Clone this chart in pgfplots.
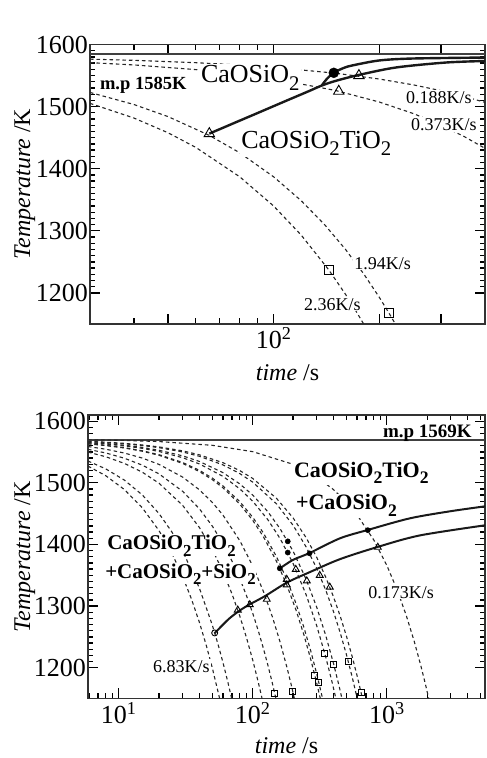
\documentclass[border=0pt]{standalone}
\usepackage{fontspec}
\setmainfont{Liberation Serif}
\usepackage{pgfplots}
\pgfplotsset{compat=1.18}

% chemical subscript, larger and lower than \textsubscript
\newcommand{\sbt}[1]{\raisebox{-0.3em}{\scalebox{0.8}{#1}}}

\pgfplotsset{
  myax/.style={
    scale only axis, ymin=1150,
    axis line style={black!80, line width=1.3pt},
    every tick/.style={black, line width=1.3pt},
    major tick length=10pt, minor tick length=5.5pt,
    tick align=inside, xtick pos=both, ytick pos=both,
    ytick={1200,1300,1400,1500,1600}, minor y tick num=9,
    yticklabel style={font=\fontsize{26}{26}\selectfont, inner sep=2pt},
    xticklabel style={font=\fontsize{26}{26}\selectfont},
    /pgf/number format/assume math mode=true,
    /pgf/number format/1000 sep={},
    label style={font=\fontsize{24}{24}\selectfont},
    xlabel={\textit{time} /s}, ylabel={\textit{Temperature} /K},
  },
  dsh/.style={black!85, line width=1.1pt, dash pattern=on 3.5pt off 3pt},
  sol/.style={black!90, line width=2.4pt, smooth},
  mpl/.style={black!75, line width=1.6pt},
  tri/.style={only marks, mark=triangle, mark size=#1, mark options={fill=white, line width=0.9pt, black}},
  sq/.style={only marks, mark=square, mark size=#1, mark options={fill=white, line width=0.9pt, black}},
  dot/.style={only marks, mark=*, mark size=#1, mark options={black}},
}

\begin{document}
\begin{tikzpicture}
\useasboundingbox (-88pt,-59.5pt) rectangle (399pt,698.5pt);

% ---------------- (a)
\begin{semilogxaxis}[myax, at={(2pt,374.5pt)}, anchor=south west,
  width=395pt, height=279.5pt,
  xmin=30, xmax=400, ymax=1600,
  xtick={50,100,200,300}, xticklabels={,10\textsuperscript{2},,},
  minor xtick={40,60,70,80,90},
  xlabel style={at={(axis description cs:0.5,-0.175)}, anchor=center},
  ylabel style={at={(axis description cs:-0.165,0.5)}, anchor=center},
]
\addplot[mpl] coordinates {(30,1585) (400,1585)};

% cooling curves
\addplot[dsh] coordinates {(30,1576.4) (40,1574.5) (60,1570.7) (80,1567.0) (100,1563.2) (150,1553.8) (200,1544.4) (250,1535.0) (300,1525.6) (350,1516.2) (400,1506.8)};
\addplot[dsh] coordinates {(30,1570.8) (40,1567.1) (60,1559.6) (80,1552.2) (100,1544.7) (150,1526.0) (200,1507.4) (250,1488.8) (300,1470.1) (350,1451.4) (400,1432.8)};
\addplot[dsh] coordinates {(30,1522.8) (40,1503.4) (50,1484.0) (65.6,1453.7) (80,1425.8) (100,1387.0) (120,1348.2) (140,1309.4) (160,1270.6) (180,1231.8) (200,1193.0) (213,1167.8) (222.2,1150) (230,1134.8)};
\addplot[dsh] coordinates {(30,1505.2) (40,1481.6) (50,1458.0) (60,1434.4) (80,1387.2) (100,1340.0) (120,1292.8) (143.6,1237.1) (160,1198.4) (170,1174.8) (180.5,1150) (190,1127.6)};

% phase boundaries
\addplot[sol] coordinates {(65.6,1456.5) (79.4,1476.5) (90.6,1490.3) (110.4,1511.1) (125.9,1524.8) (137.1,1533.9) (150.4,1541.5) (175,1551) (223.2,1563) (310,1571) (400,1573.4)};
\addplot[sol] coordinates {(137.1,1533.9) (142,1545) (148.4,1554.6) (158,1562) (167.1,1566.1) (199.5,1574.2) (248,1577.4) (400,1579)};

\addplot[tri=6pt] coordinates {(65.6,1456.5) (153.3,1524.7) (175,1550)};
\addplot[dot=5pt] coordinates {(148.4,1554.4)};
\addplot[sq=4.5pt] coordinates {(143.6,1237.1) (213,1167.8)};

\node[anchor=west, font=\bfseries\fontsize{22}{22}\selectfont] at (rel axis cs:0.005,1.09) {(a)};
\node[anchor=base west, inner sep=0pt, font=\bfseries\fontsize{18.5}{20}\selectfont] at (rel axis cs:0.025,0.84) {m.p 1585K};
\node[anchor=base west, inner sep=1pt, fill=white, font=\fontsize{26}{28}\selectfont] at (rel axis cs:0.278,0.864) {CaOSiO\sbt{2}};
\node[anchor=base west, inner sep=1pt, fill=white, font=\fontsize{26}{28}\selectfont] at (rel axis cs:0.380,0.629) {CaOSiO\sbt{2}TiO\sbt{2}};
\node[anchor=base west, inner sep=1pt, fill=white, font=\fontsize{18}{20}\selectfont] at (rel axis cs:0.797,0.789) {0.188K/s};
\node[anchor=base west, inner sep=1pt, fill=white, font=\fontsize{18}{20}\selectfont] at (rel axis cs:0.810,0.693) {0.373K/s};
\node[anchor=base west, inner sep=1pt, fill=white, font=\fontsize{18}{20}\selectfont] at (rel axis cs:0.666,0.196) {1.94K/s};
\node[anchor=base west, inner sep=1pt, fill=white, font=\fontsize{18}{20}\selectfont] at (rel axis cs:0.539,0.050) {2.36K/s};
\end{semilogxaxis}

% ---------------- (b)
\begin{semilogxaxis}[myax, at={(0pt,0pt)}, anchor=south west,
  width=397pt, height=283.5pt,
  xmin=5.9, xmax=5400, ymax=1610,
  xtick={10,100,1000}, xticklabels={10\textsuperscript{1},10\textsuperscript{2},10\textsuperscript{3}},
  minor xtick={6,7,8,9,20,30,40,50,60,70,80,90,200,300,400,500,600,700,800,900,2000,3000,4000,5000},
  xlabel style={at={(axis description cs:0.5,-0.165)}, anchor=center},
  ylabel style={at={(axis description cs:-0.159,0.5)}, anchor=center},
]
\addplot[mpl] coordinates {(5.9,1569) (5400,1569)};

% cooling curves, fastest (left) to slowest (right)
\addplot[dsh] coordinates {(5.9,1527.1) (8,1511.5) (11,1489.2) (15,1459.4) (20,1422.2) (25,1385.0) (30,1347.8) (35,1310.6) (40,1273.4) (45,1236.2) (50,1199.0) (56.6,1149.9) (60,1124.6)};
\addplot[dsh] coordinates {(5.9,1535.3) (8,1522.6) (11,1504.5) (15,1480.3) (20,1450.0) (25,1419.8) (30,1389.5) (40,1329.0) (50,1268.5) (55,1238.3) (60,1208.0) (65,1177.8) (69.6,1149.9) (73,1129.4)};
\addplot[dsh] coordinates {(5.9,1549.8) (8,1542.3) (11,1531.5) (15,1517.2) (20,1499.2) (30,1463.3) (40,1427.4) (50,1391.5) (60,1355.6) (70,1319.7) (80,1283.8) (90,1247.9) (100,1212.0) (110,1176.1) (117.3,1149.9) (122,1133)};
\addplot[dsh] coordinates {(5.9,1554.3) (8,1548.4) (11,1539.9) (15,1528.6) (20,1514.4) (30,1486.1) (40,1457.8) (50,1429.5) (60,1401.2) (70,1372.9) (80,1344.6) (90,1316.3) (100,1288.0) (110,1259.7) (120,1231.4) (130,1203.1) (140,1174.8) (148.8,1149.9) (155,1132.4)};
\addplot[dsh] coordinates {(5.9,1558.8) (8,1554.5) (11,1548.3) (15,1540.1) (20,1529.8) (30,1509.2) (40,1488.6) (50,1468.0) (60,1447.4) (80,1406.2) (100,1365.0) (120,1323.8) (140,1282.6) (160,1241.4) (180,1200.2) (195,1169.3) (204.4,1149.9) (212,1134.3)};
\addplot[dsh] coordinates {(5.9,1563.2) (8,1560.4) (11,1556.5) (15,1551.2) (20,1544.6) (30,1531.4) (40,1518.2) (50,1505.0) (60,1491.8) (80,1465.4) (100,1439.0) (120,1412.6) (150,1373.0) (180,1333.4) (210,1293.8) (240,1254.2) (270,1214.6) (300,1175.0) (318.9,1150.1) (330,1135.4)};
\addplot[dsh] coordinates {(5.9,1563.5) (8,1560.8) (11,1557.0) (15,1552.0) (20,1545.6) (30,1532.9) (40,1520.2) (50,1507.5) (60,1494.8) (80,1469.4) (100,1444.0) (120,1418.6) (150,1380.5) (180,1342.4) (210,1304.3) (240,1266.2) (270,1228.1) (300,1190.0) (331.5,1150.0) (345,1132.9)};
\addplot[dsh] coordinates {(5.9,1565.0) (8,1562.9) (11,1559.9) (15,1555.9) (20,1550.8) (30,1540.7) (40,1530.6) (60,1510.4) (80,1490.2) (100,1470.0) (130,1439.7) (160,1409.4) (200,1369.0) (250,1318.5) (300,1268.0) (350,1217.5) (390,1177.1) (416.8,1150.0) (430,1136.7)};
\addplot[dsh] coordinates {(5.9,1565.6) (8,1563.7) (11,1561.0) (15,1557.4) (20,1552.8) (30,1543.7) (40,1534.6) (60,1516.4) (80,1498.2) (100,1480.0) (130,1452.7) (160,1425.4) (200,1389.0) (250,1343.5) (300,1298.0) (350,1252.5) (400,1207.0) (440,1170.6) (462.6,1150.0) (480,1134.2)};
\addplot[dsh] coordinates {(5.9,1566.9) (8,1565.4) (11,1563.3) (15,1560.5) (20,1557.0) (30,1550.0) (40,1543.0) (60,1529.0) (80,1515.0) (100,1501.0) (150,1466.0) (200,1431.0) (250,1396.0) (300,1361.0) (350,1326.0) (400,1291.0) (450,1256.0) (500,1221.0) (550,1186.0) (601.4,1150.0) (620,1137)};
\addplot[dsh] coordinates {(5.9,1567.2) (8,1565.9) (11,1564.0) (15,1561.4) (20,1558.2) (30,1551.8) (40,1545.4) (60,1532.6) (80,1519.8) (100,1507.0) (150,1475.0) (200,1443.0) (250,1411.0) (300,1379.0) (350,1347.0) (400,1315.0) (450,1283.0) (500,1251.0) (550,1219.0) (600,1187.0) (650,1155.0) (657.8,1150.0) (680,1135.8)};
\addplot[dsh] coordinates {(5.9,1569.8) (10,1569.0) (20,1566.9) (50,1560.8) (100,1550.5) (200,1530.0) (300,1509.5) (400,1489.0) (500,1468.5) (600,1448.0) (800,1407.0) (1000,1366.0) (1200,1325.0) (1400,1284.0) (1600,1243.0) (1800,1202.0) (1950,1171.3) (2053.7,1150.0) (2150,1130.3)};

% phase boundaries
\addplot[sol, line width=2pt] coordinates {(52,1256) (67,1280) (87,1298) (123,1316) (179.3,1338) (266,1355) (446,1376) (856.7,1396) (1763,1414.6) (5400,1431)};
\addplot[sol, line width=2pt] coordinates {(159,1361) (200,1375) (265,1386) (446,1409.8) (721.6,1423.5) (1484,1442.3) (2953,1453.7) (5400,1461.8)};

\addplot[sq=3pt] coordinates {(145.9,1158.1) (198.8,1161.5) (290,1188.2) (310.8,1176.3) (344.6,1223.0) (402,1205.2) (515,1210.5) (643,1159.5)};
\addplot[tri=4pt] coordinates {(77.3,1293.5) (95,1302.2) (127.2,1311) (179.3,1334.3) (179.3,1343.3) (209.4,1359.5) (253,1340.8) (316,1349.8) (375.5,1330.7) (856.7,1395.4)};
\addplot[only marks, mark=o, mark size=3pt, mark options={fill=white, line width=0.9pt, black}] coordinates {(52,1256.4)};
\addplot[dot=2.6pt] coordinates {(159,1361.1) (182.4,1405) (182.4,1386.8) (265,1385.5) (721.6,1423.1)};

\node[anchor=west, font=\bfseries\fontsize{22}{22}\selectfont] at (rel axis cs:0.01,1.055) {(b)};
\node[anchor=base east, inner sep=0pt, font=\bfseries\fontsize{19}{20}\selectfont] at (rel axis cs:0.967,0.922) {m.p 1569K};
\node[anchor=base west, inner sep=1pt, fill=white, font=\bfseries\fontsize{22}{24}\selectfont] at (rel axis cs:0.516,0.781) {CaOSiO\sbt{2}TiO\sbt{2}};
\node[anchor=base west, inner sep=1pt, fill=white, font=\bfseries\fontsize{22}{24}\selectfont] at (rel axis cs:0.521,0.665) {+CaOSiO\sbt{2}};
\node[anchor=base west, inner sep=0pt, fill=white, font=\bfseries\fontsize{21}{24}\selectfont] at (rel axis cs:0.048,0.524) {CaOSiO\sbt{2}TiO\sbt{2}};
\node[anchor=base west, inner sep=0pt, fill=white, font=\bfseries\fontsize{21}{24}\selectfont] at (rel axis cs:0.043,0.425) {+CaOSiO\sbt{2}+SiO\sbt{2}};
\node[anchor=base west, inner sep=1pt, fill=white, font=\fontsize{18}{20}\selectfont] at (rel axis cs:0.161,0.093) {6.83K/s};
\node[anchor=base west, inner sep=1pt, fill=white, font=\fontsize{18}{20}\selectfont] at (rel axis cs:0.703,0.354) {0.173K/s};
\end{semilogxaxis}
\end{tikzpicture}
\end{document}
